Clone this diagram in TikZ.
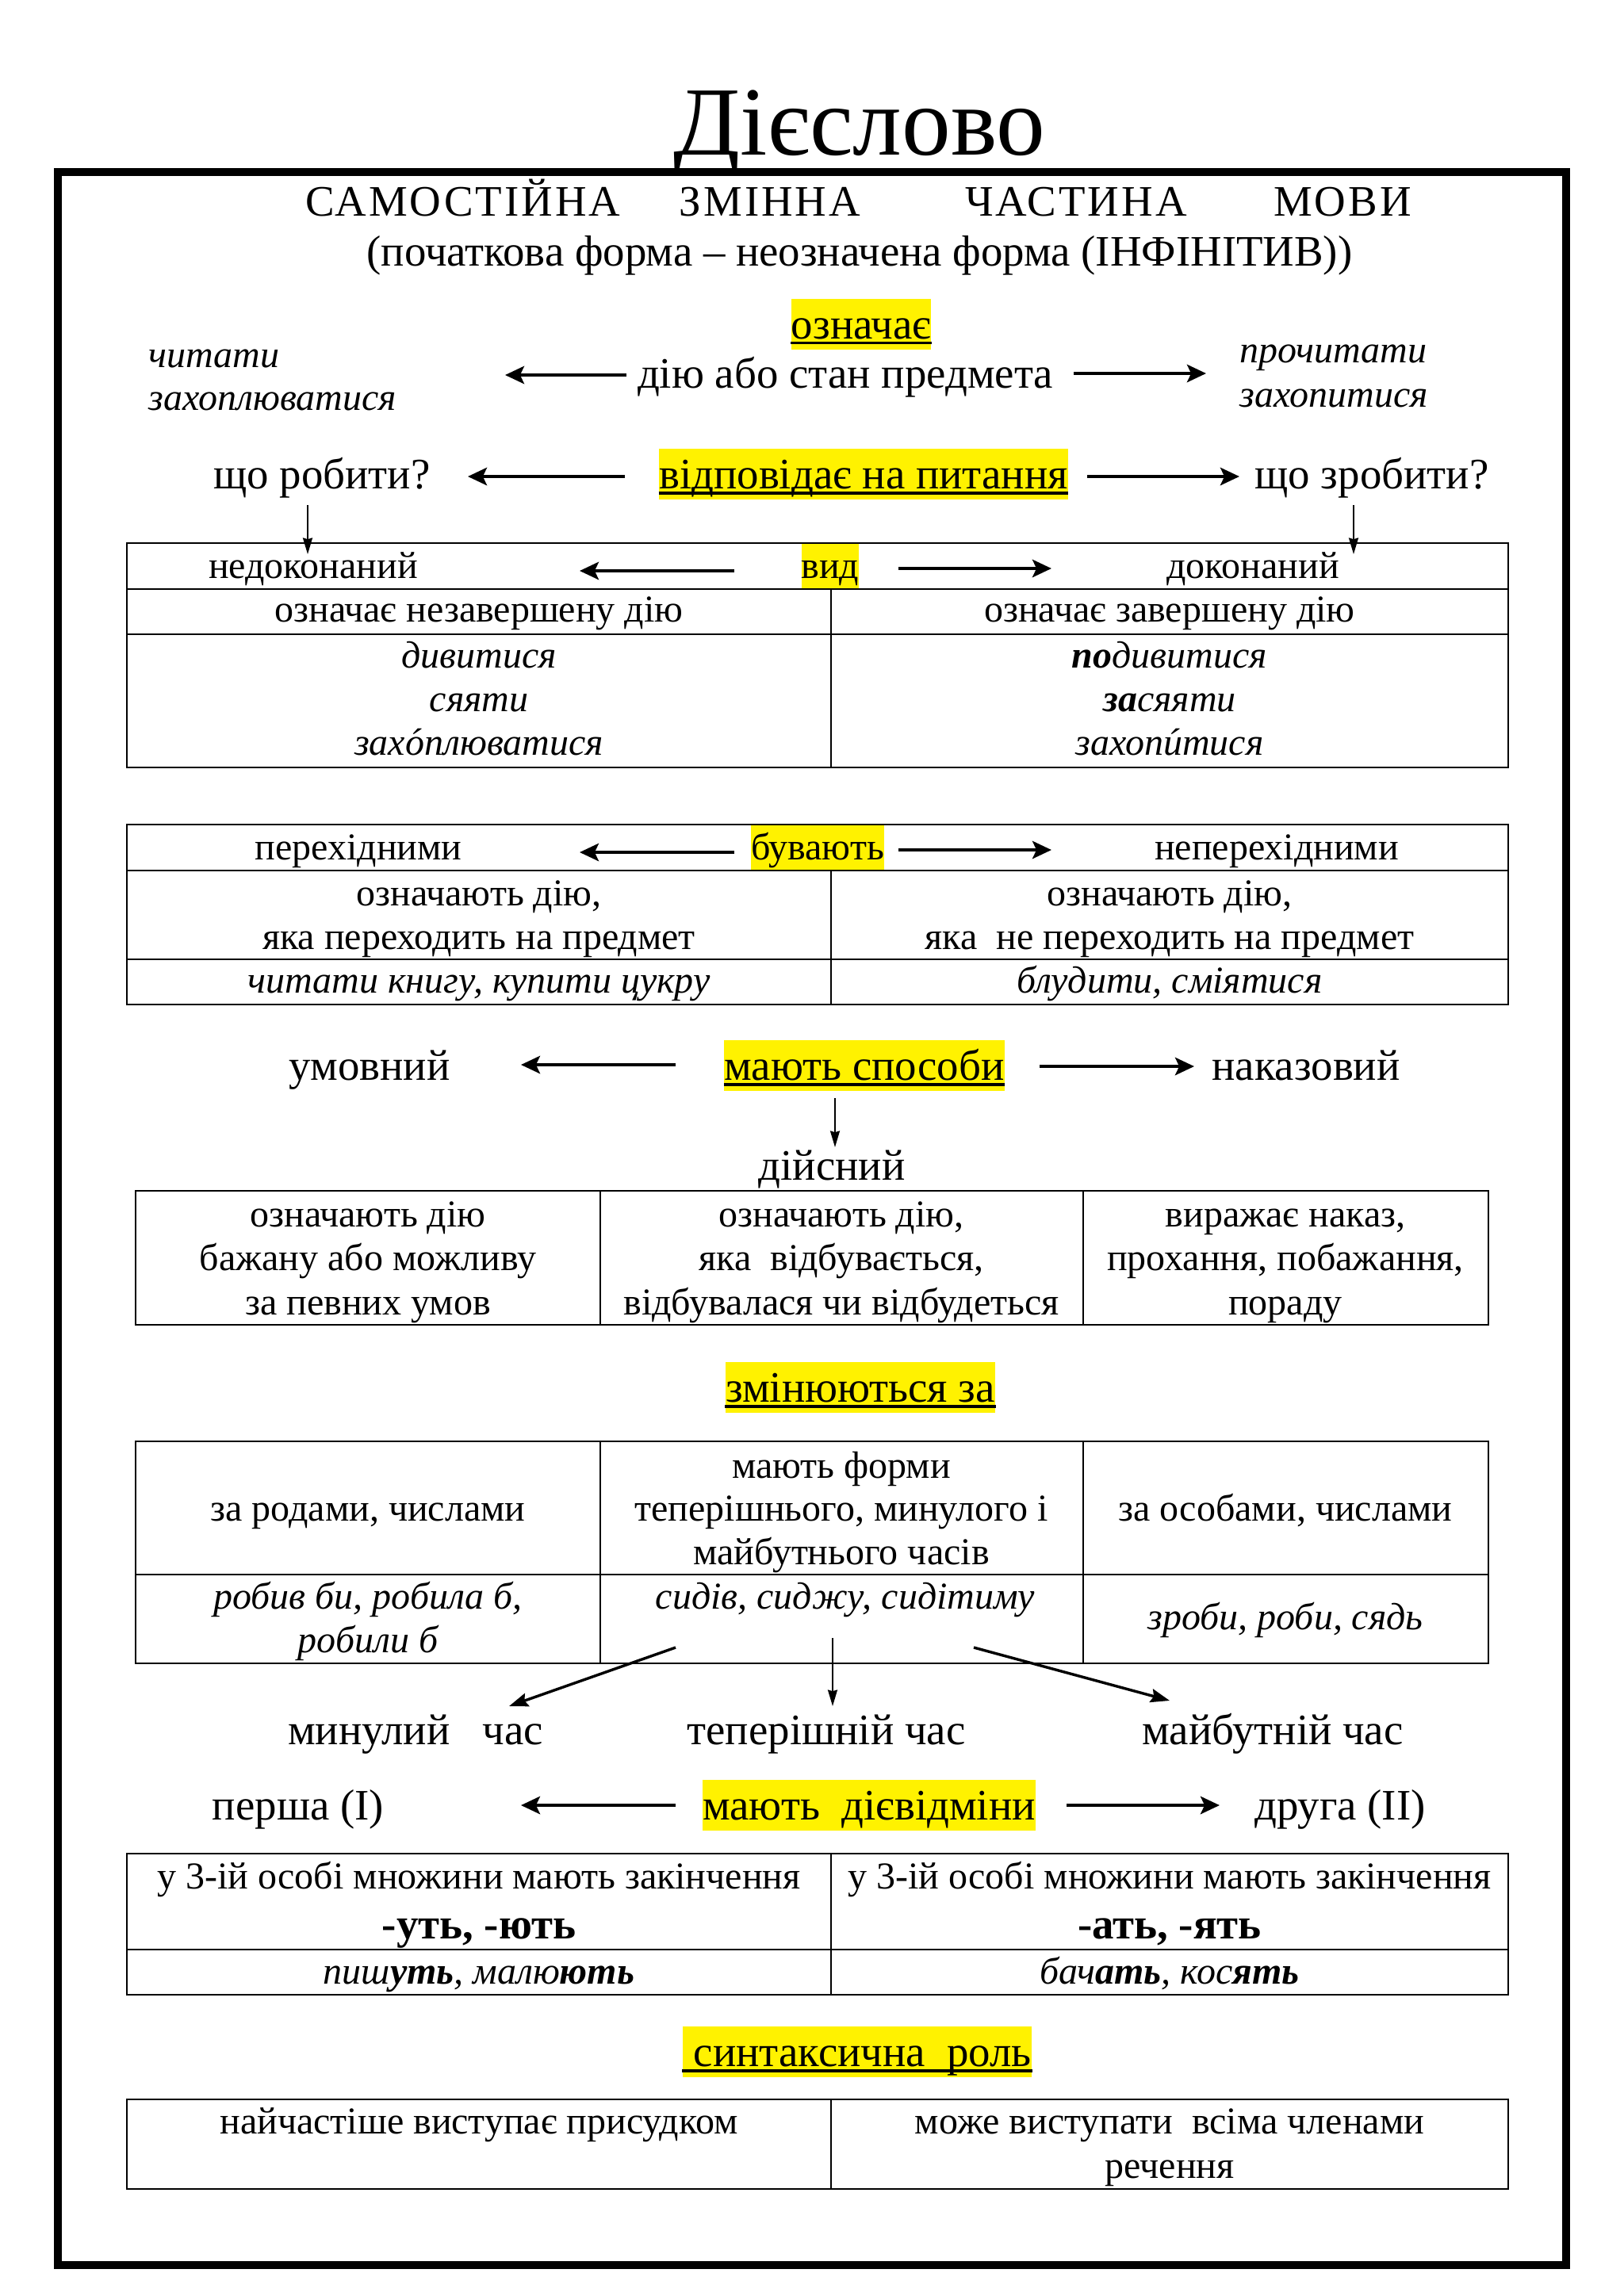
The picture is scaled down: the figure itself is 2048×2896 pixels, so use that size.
\documentclass[tikz,border=0pt]{standalone}
\usepackage{fontspec}
\setmainfont{Liberation Serif}
\usetikzlibrary{arrows.meta}
\newcommand\fbig{\fontsize{16}{19}\selectfont}
\newcommand\fcaps{\fontsize{16}{19}\selectfont\addfontfeatures{LetterSpace=5.5}}
\newcommand\ftab{\fontsize{14}{17}\selectfont}
\newcommand\fbold{\fontsize{16}{19}\selectfont\bfseries}
\newcommand\ftitle{\fontsize{36}{40}\selectfont}
\newcommand\stress[1]{\accent"00B4 #1}
\begin{document}
\begin{tikzpicture}[x=0.010254cm,y=-0.010254cm,
  txt/.style={anchor=base,inner sep=0pt,font=\fbig},
  caps/.style={anchor=base,inner sep=0pt,font=\fcaps},
  tt/.style={anchor=base,inner sep=0pt,font=\ftab},
  tti/.style={anchor=base,inner sep=0pt,font=\ftab\itshape},
  hl/.style={anchor=base,fill=yellow,inner xsep=0pt,inner ysep=0pt,text height=14.6pt,text depth=4pt,font=\fbig},
  hlt/.style={anchor=base,fill=yellow,inner xsep=0pt,inner ysep=0pt,text height=12.5pt,text depth=3.8pt,font=\ftab},
  ul/.style={line width=1pt},
  ar/.style={line width=1.2pt,-{Stealth[length=7pt,width=6.5pt,inset=1.5pt]}},
  tar/.style={line width=0.6pt,-{Stealth[length=6pt,width=3.5pt,inset=0.5pt]}},
  dar/.style={line width=1pt,-{Stealth[length=7pt,width=5pt,inset=1pt]}},
  tbl/.style={line width=0.8pt},
]
\useasboundingbox (0,0) rectangle (2048,2896);

% outer frame
\draw[line width=2.9pt] (73,217) rectangle (1975,2857);

% title
\node[anchor=base,inner sep=0pt,font=\ftitle] (title) at (1084,195) {Дієслово};
\node[caps] (w1) at (584,272) {САМОСТІЙНА};
\node[caps] (w2) at (971,272) {ЗМІННА};
\node[caps] (w3) at (1357,272) {ЧАСТИНА};
\node[caps] (w4) at (1693,272) {МОВИ};
\node[txt] (inf) at (1084,335) {(початкова форма – неозначена форма (ІНФІНІТИВ))};

% означає
\node[hl] (oz) at (1086,427) {означає};
\draw[ul] ([yshift=-1.6pt]oz.base west) -- ([yshift=-1.6pt]oz.base east);
\node[txt] (dia) at (1066,489) {дію або стан предмета};
\node[tti,anchor=base west] (ch1) at (187,463) {читати};
\node[tti,anchor=base west] (ch2) at (187,517) {захоплюватися};
\node[tti,anchor=base west] (pr1) at (1563,457) {прочитати};
\node[tti,anchor=base west] (pr2) at (1563,513) {захопитися};
\coordinate (a1s) at (790,473); \coordinate (a1e) at (637,473);
\coordinate (a2s) at (1354,471); \coordinate (a2e) at (1521,471);
\draw[ar] (a1s) -- (a1e);
\draw[ar] (a2s) -- (a2e);

% відповідає на питання
\node[hl] (vp) at (1089,616) {відповідає на питання};
\draw[ul] ([yshift=-1.8pt]vp.base west) -- ([yshift=-1.8pt]vp.base east);
\node[txt] (qr) at (406,616) {що робити?};
\node[txt] (qz) at (1730,616) {що зробити?};
\coordinate (b1s) at (788,601); \coordinate (b1e) at (590,601);
\coordinate (b2s) at (1371,601); \coordinate (b2e) at (1563,601);
\draw[ar] (b1s) -- (b1e);
\draw[ar] (b2s) -- (b2e);
\coordinate (d1s) at (388,637); \coordinate (d1e) at (388,699);
\coordinate (d2s) at (1707,637); \coordinate (d2e) at (1707,699);
\draw[tar] (d1s) -- (d1e);
\draw[tar] (d2s) -- (d2e);

% table 1 (вид)
\draw[tbl] (160,685) rectangle (1902,968);
\draw[tbl] (160,743) -- (1902,743);
\draw[tbl] (160,800) -- (1902,800);
\draw[tbl] (1048,743) -- (1048,968);
\node[hlt] (vyd) at (1047,729) {вид};
\node[tt] (ndk) at (395,729) {недоконаний};
\node[tt] (dk) at (1580,729) {доконаний};
\coordinate (c1s) at (926,720); \coordinate (c1e) at (731,720);
\coordinate (c2s) at (1133,717); \coordinate (c2e) at (1326,717);
\draw[ar] (c1s) -- (c1e);
\draw[ar] (c2s) -- (c2e);
\node[tt] (t1a) at (604,784) {означає незавершену дію};
\node[tt] (t1b) at (1475,784) {означає завершену дію};
\node[tti] (t1c) at (604,842) {дивитися};
\node[tti] (t1d) at (604,897) {сяяти};
\node[tti] (t1e) at (604,952) {зах\stress{о}плюватися};
\node[tti] (t1f) at (1475,842) {\textbf{по}дивитися};
\node[tti] (t1g) at (1475,897) {\textbf{за}сяяти};
\node[tti] (t1h) at (1475,952) {захоп\stress{и}тися};

% table 2 (бувають)
\draw[tbl] (160,1040) rectangle (1902,1267);
\draw[tbl] (160,1098) -- (1902,1098);
\draw[tbl] (160,1210) -- (1902,1210);
\draw[tbl] (1048,1098) -- (1048,1267);
\node[hlt] (buv) at (1031,1084) {бувають};
\node[tt] (per) at (452,1084) {перехідними};
\node[tt] (nper) at (1610,1084) {неперехідними};
\coordinate (e1s) at (926,1075); \coordinate (e1e) at (731,1075);
\coordinate (e2s) at (1133,1072); \coordinate (e2e) at (1326,1072);
\draw[ar] (e1s) -- (e1e);
\draw[ar] (e2s) -- (e2e);
\node[tt] (t2a) at (604,1142) {означають дію,};
\node[tt] (t2b) at (604,1197) {яка переходить на предмет};
\node[tt] (t2c) at (1475,1142) {означають дію,};
\node[tt] (t2d) at (1475,1197) {яка\ \ не переходить на предмет};
\node[tti] (t2e) at (604,1252) {читати книгу, купити цукру};
\node[tti] (t2f) at (1475,1252) {блудити, сміятися};

% мають способи
\node[hl] (spos) at (1090,1362) {мають способи};
\draw[ul] ([yshift=-1.8pt]spos.base west) -- ([yshift=-1.8pt]spos.base east);
\node[txt] (umov) at (466,1362) {умовний};
\node[txt] (nak) at (1647,1362) {наказовий};
\node[txt] (dijs) at (1049,1488) {дійсний};
\coordinate (f1s) at (852,1343); \coordinate (f1e) at (657,1343);
\coordinate (f2s) at (1311,1345); \coordinate (f2e) at (1506,1345);
\coordinate (f3s) at (1053,1385); \coordinate (f3e) at (1053,1447);
\draw[ar] (f1s) -- (f1e);
\draw[ar] (f2s) -- (f2e);
\draw[tar] (f3s) -- (f3e);

% table 3
\draw[tbl] (171,1502) rectangle (1877,1671);
\draw[tbl] (757,1502) -- (757,1671);
\draw[tbl] (1366,1502) -- (1366,1671);
\node[tt] (t3a) at (464,1547) {означають дію};
\node[tt] (t3b) at (464,1602) {бажану або можливу};
\node[tt] (t3c) at (464,1658) {за певних умов};
\node[tt] (t3d) at (1061,1547) {означають дію,};
\node[tt] (t3e) at (1061,1602) {яка\ \ відбувається,};
\node[tt] (t3f) at (1061,1658) {відбувалася чи відбудеться};
\node[tt] (t3g) at (1621,1547) {виражає наказ,};
\node[tt] (t3h) at (1621,1602) {прохання, побажання,};
\node[tt] (t3i) at (1621,1658) {пораду};

% змінюються за
\node[hl] (zmin) at (1085,1768) {змінюються за};
\draw[ul] ([yshift=-1.8pt]zmin.base west) -- ([yshift=-1.8pt]zmin.base east);

% table 4
\draw[tbl] (171,1818) rectangle (1877,2098);
\draw[tbl] (171,1986) -- (1877,1986);
\draw[tbl] (757,1818) -- (757,2098);
\draw[tbl] (1366,1818) -- (1366,2098);
\node[tt] (t4a) at (464,1918) {за родами, числами};
\node[tt] (t4b) at (1061,1864) {мають форми};
\node[tt] (t4c) at (1061,1918) {теперішнього, минулого і};
\node[tt] (t4d) at (1061,1973) {майбутнього часів};
\node[tt] (t4e) at (1621,1918) {за особами, числами};
\node[tti] (t4f) at (464,2029) {робив би, робила б,};
\node[tti] (t4g) at (464,2084) {робили б};
\node[tti] (t4h) at (1066,2029) {сидів, сиджу, сидітиму};
\node[tti] (t4i) at (1621,2055) {зроби, роби, сядь};
\coordinate (g1s) at (852,2078); \coordinate (g1e) at (642,2152);
\coordinate (g2s) at (1050,2066); \coordinate (g2e) at (1050,2152);
\coordinate (g3s) at (1228,2078); \coordinate (g3e) at (1475,2145);
\draw[dar] (g1s) -- (g1e);
\draw[tar] (g2s) -- (g2e);
\draw[dar] (g3s) -- (g3e);
\node[txt] (min) at (524,2200) {минулий\ \ \ час};
\node[txt] (tep) at (1042,2200) {теперішній час};
\node[txt] (majb) at (1605,2200) {майбутній час};

% мають дієвідміни
\node[hl] (diev) at (1096,2295) {мають\ \ дієвідміни};
\node[txt] (persha) at (376,2295) {перша (І)};
\node[txt] (druha) at (1690,2295) {друга (ІІ)};
\coordinate (h1s) at (852,2277); \coordinate (h1e) at (657,2277);
\coordinate (h2s) at (1345,2277); \coordinate (h2e) at (1538,2277);
\draw[ar] (h1s) -- (h1e);
\draw[ar] (h2s) -- (h2e);

% table 5
\draw[tbl] (160,2338) rectangle (1902,2516);
\draw[tbl] (160,2459) -- (1902,2459);
\draw[tbl] (1048,2338) -- (1048,2516);
\node[tt] (t5a) at (604,2382) {у 3-ій особі множини мають закінчення};
\node[tt] (t5b) at (1475,2382) {у 3-ій особі множини мають закінчення};
\node[anchor=base,inner sep=0pt,font=\fbold] (t5c) at (604,2445) {-уть, -ють};
\node[anchor=base,inner sep=0pt,font=\fbold] (t5d) at (1475,2445) {-ать, -ять};
\node[tti] (t5e) at (604,2502) {пиш\textbf{уть}, малю\textbf{ють}};
\node[tti] (t5f) at (1475,2502) {бач\textbf{ать}, кос\textbf{ять}};

% синтаксична роль
\node[hl] (synt) at (1081,2606) {\ синтаксична\ \ роль};
\draw[ul] ([yshift=-1.8pt]synt.base west) -- ([yshift=-1.8pt]synt.base east);

% table 6
\draw[tbl] (160,2648) rectangle (1902,2761);
\draw[tbl] (1048,2648) -- (1048,2761);
\node[tt] (t6a) at (604,2691) {найчастіше виступає присудком};
\node[tt] (t6b) at (1475,2691) {може виступати\ \ всіма членами};
\node[tt] (t6c) at (1475,2747) {речення};
\end{tikzpicture}
\end{document}
